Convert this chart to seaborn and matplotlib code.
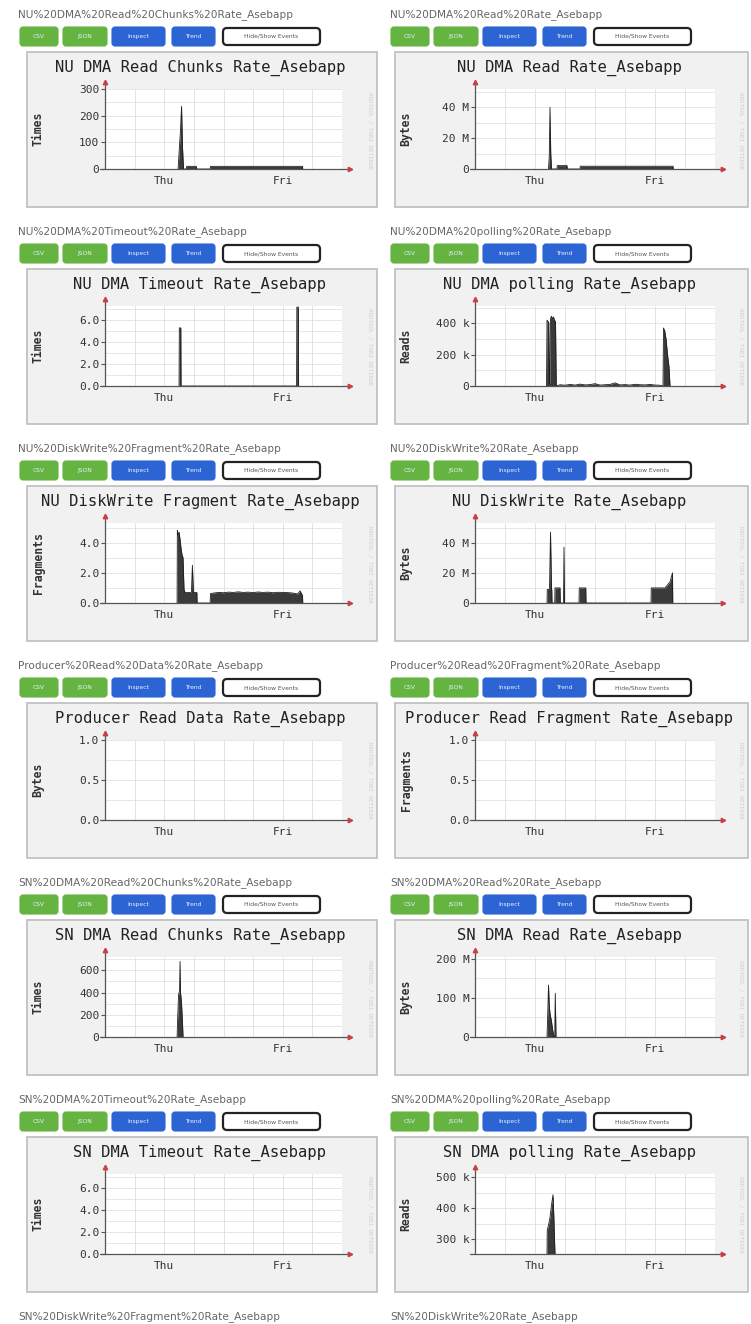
import matplotlib
matplotlib.use("Agg")
import matplotlib.pyplot as plt
from matplotlib.patches import Rectangle, FancyBboxPatch
import numpy as np
import pandas as pd
import seaborn as sns

sns.set_theme(style="white")
plt.rcParams['font.family'] = ['DejaVu Sans']

# ---------------- data (hours over a 48 h window, values in display units) -------------
day_ticks = [12, 36]
day_labels = ["Thu", "Fri"]
hour_grid = [6, 12, 18, 24, 30, 36, 42]

headers = [
    "NU%20DMA%20Read%20Chunks%20Rate_Asebapp", "NU%20DMA%20Read%20Rate_Asebapp",
    "NU%20DMA%20Timeout%20Rate_Asebapp", "NU%20DMA%20polling%20Rate_Asebapp",
    "NU%20DiskWrite%20Fragment%20Rate_Asebapp", "NU%20DiskWrite%20Rate_Asebapp",
    "Producer%20Read%20Data%20Rate_Asebapp", "Producer%20Read%20Fragment%20Rate_Asebapp",
    "SN%20DMA%20Read%20Chunks%20Rate_Asebapp", "SN%20DMA%20Read%20Rate_Asebapp",
    "SN%20DMA%20Timeout%20Rate_Asebapp", "SN%20DMA%20polling%20Rate_Asebapp",
]
footer_headers = ["SN%20DiskWrite%20Fragment%20Rate_Asebapp", "SN%20DiskWrite%20Rate_Asebapp"]

titles = [
    "NU DMA Read Chunks Rate_Asebapp", "NU DMA Read Rate_Asebapp",
    "NU DMA Timeout Rate_Asebapp", "NU DMA polling Rate_Asebapp",
    "NU DiskWrite Fragment Rate_Asebapp", "NU DiskWrite Rate_Asebapp",
    "Producer Read Data Rate_Asebapp", "Producer Read Fragment Rate_Asebapp",
    "SN DMA Read Chunks Rate_Asebapp", "SN DMA Read Rate_Asebapp",
    "SN DMA Timeout Rate_Asebapp", "SN DMA polling Rate_Asebapp",
]
ylabels = ["Times", "Bytes", "Times", "Reads", "Fragments", "Bytes",
           "Bytes", "Fragments", "Times", "Bytes", "Times", "Reads"]

ylims = [(0, 300), (0, 52), (0, 7.3), (0, 510), (0, 5.3), (0, 53),
         (0, 1), (0, 1), (0, 720), (0, 205), (0, 7.3), (252, 510)]
yticks = [[0, 100, 200, 300], [0, 20, 40], [0, 2, 4, 6], [0, 200, 400], [0, 2, 4], [0, 20, 40],
          [0, 0.5, 1.0], [0, 0.5, 1.0], [0, 200, 400, 600], [0, 100, 200], [0, 2, 4, 6], [300, 400, 500]]
yticklabels = [["0", "100", "200", "300"], ["0", "20 M", "40 M"], ["0.0", "2.0", "4.0", "6.0"],
               ["0", "200 k", "400 k"], ["0.0", "2.0", "4.0"], ["0", "20 M", "40 M"],
               ["0.0", "0.5", "1.0"], ["0.0", "0.5", "1.0"], ["0", "200", "400", "600"],
               ["0", "100 M", "200 M"], ["0.0", "2.0", "4.0", "6.0"], ["300 k", "400 k", "500 k"]]

nu_chunks_t = [14.8, 15.0, 15.3, 15.5, 15.7, 15.9, 16.5, 16.55, 18.5, 18.55, 21.3, 21.35, 40.0, 40.05]
nu_chunks_v = [0, 60, 150, 235, 80, 0, 0, 10, 10, 0, 0, 10, 10, 0]

nu_read_t = [14.7, 14.85, 15.0, 15.15, 15.3, 16.4, 16.45, 18.4, 18.45, 21.0, 21.05, 39.6, 39.65]
nu_read_v = [0, 8, 40, 10, 0, 0, 2.2, 2.2, 0, 0, 1.8, 1.8, 0]

nu_timeout_t = [15.0, 15.05, 15.35, 15.4, 38.8, 38.85, 39.15, 39.2]
nu_timeout_v = [0, 5.3, 5.3, 0, 0, 7.2, 7.2, 0]

nu_poll_t = [14.3, 14.4, 14.75, 14.85, 14.95, 15.1, 15.3, 15.5, 15.7, 15.9, 16.1, 16.25,
             17, 18, 19, 20, 21, 22, 23, 24, 25, 26, 27, 28, 29, 30, 31, 32, 33, 34, 35, 36, 37,
             37.6, 37.7, 37.95, 38.2, 38.5, 38.8, 39.0]
nu_poll_v = [0, 420, 405, 20, 15, 430, 445, 425, 440, 420, 410, 0,
             8, 5, 10, 6, 12, 7, 9, 15, 6, 8, 10, 20, 7, 9, 6, 11, 8, 7, 10, 6, 5,
             0, 370, 350, 300, 200, 120, 0]

nu_frag_t = [14.6, 14.65, 14.8, 15.0, 15.2, 15.4, 15.6, 15.8, 16.0, 16.2, 16.6, 17.5, 17.7, 17.9,
             18.6, 18.65, 21.3, 21.35, 22, 23, 24, 25, 26, 27, 28, 29, 30, 31, 32, 33, 34, 35, 36,
             37, 38, 39, 39.5, 40.0, 40.05]
nu_frag_v = [0, 4.8, 4.5, 4.7, 4.2, 3.6, 3.2, 3.0, 0.9, 0.7, 0.7, 0.7, 2.5, 0.7,
             0.7, 0, 0, 0.62, 0.66, 0.7, 0.68, 0.72, 0.7, 0.74, 0.7, 0.72, 0.69, 0.73, 0.7, 0.72, 0.68,
             0.71, 0.7, 0.69, 0.66, 0.6, 0.8, 0.5, 0]

nu_dw_t = [14.4, 14.45, 14.9, 15.1, 15.3, 15.35, 15.4, 15.95, 16.0, 17.0, 17.05, 17.7, 17.8, 17.9,
           20.8, 20.85, 22.15, 22.2, 35.2, 35.25, 38.0, 39.0, 39.5, 39.55]
nu_dw_v = [0, 9, 9, 47, 9, 9, 0, 0, 10, 10, 0, 0, 37, 0,
           0, 10, 10, 0, 0, 10, 10, 14, 20, 0]

prod_data_t = []
prod_data_v = []
prod_frag_t = []
prod_frag_v = []

sn_chunks_t = [14.6, 14.7, 14.9, 15.1, 15.2, 15.3, 15.5, 15.7, 15.8]
sn_chunks_v = [0, 150, 380, 420, 680, 400, 300, 120, 0]

sn_read_t = [14.4, 14.55, 14.7, 14.85, 15.0, 15.3, 15.5, 15.8, 15.95, 16.05, 16.2]
sn_read_v = [0, 60, 133, 80, 60, 40, 20, 0, 0, 112, 0]

sn_timeout_t = []
sn_timeout_v = []

sn_poll_t = [14.4, 14.45, 14.7, 15.0, 15.3, 15.6, 15.75, 15.9, 16.0]
sn_poll_v = [252, 330, 345, 370, 410, 443, 380, 300, 252]

series_t = [nu_chunks_t, nu_read_t, nu_timeout_t, nu_poll_t, nu_frag_t, nu_dw_t,
            prod_data_t, prod_frag_t, sn_chunks_t, sn_read_t, sn_timeout_t, sn_poll_t]
series_v = [nu_chunks_v, nu_read_v, nu_timeout_v, nu_poll_v, nu_frag_v, nu_dw_v,
            prod_data_v, prod_frag_v, sn_chunks_v, sn_read_v, sn_timeout_v, sn_poll_v]

button_labels = ["CSV", "JSON", "Inspect", "Trend", "Hide/Show Events"]

# ---------------- layout ----------------
W, H = 751, 1324
fig = plt.figure(figsize=(W / 100, H / 100), dpi=100)
fig.patch.set_facecolor("white")

bg = fig.add_axes([0, 0, 1, 1])
bg.set_xlim(0, W)
bg.set_ylim(H, 0)
bg.axis("off")

ROW_PITCH = 217
PANEL_TOP0 = 52
col_panel_x = [(27, 350), (395, 353)]
col_plot_x = [(105, 237), (475, 240)]
col_header_x = [18, 390]
col_btn_off = [0, 371]
btn_spans = [(20, 58), (63, 107), (112, 165), (172, 215), (223, 320)]
btn_face = ["#65b341", "#65b341", "#2c64d3", "#2c64d3", "white"]
mono = "DejaVu Sans Mono"


def fig_rect(x, y, w, h):
    return [x / W, 1 - (y + h) / H, w / W, h / H]


for i in range(12):
    row, col = divmod(i, 2)
    pt = PANEL_TOP0 + ROW_PITCH * row
    px, pw = col_panel_x[col]

    # header text
    bg.text(col_header_x[col], pt - 37, headers[i], fontsize=7.6, color="#666666",
            ha="left", va="center")
    # buttons
    for (bx0, bx1), lab, fc in zip(btn_spans, button_labels, btn_face):
        x0 = bx0 + col_btn_off[col]
        x1 = bx1 + col_btn_off[col]
        if fc == "white":
            bg.add_patch(FancyBboxPatch((x0, pt - 24), x1 - x0, 17,
                                        boxstyle="round,pad=0,rounding_size=4",
                                        facecolor="white", edgecolor="#222222", lw=1.6))
            bg.text((x0 + x1) / 2, pt - 15.5, lab, fontsize=4.3, color="#555555",
                    ha="center", va="center")
        else:
            bg.add_patch(FancyBboxPatch((x0, pt - 25), x1 - x0, 19,
                                        boxstyle="round,pad=0,rounding_size=3",
                                        facecolor=fc, edgecolor=fc, lw=0.8))
            bg.text((x0 + x1) / 2, pt - 15.5, lab, fontsize=4.3, color="#e8f0ff",
                    ha="center", va="center")

    # panel
    bg.add_patch(Rectangle((px, pt), pw, 155, facecolor="#f1f1f1",
                           edgecolor="#c2c2c2", lw=1.3))
    bg.text(px + pw / 2 - 2, pt + 16, titles[i], fontsize=11.2, family=mono,
            color="#222222", ha="center", va="center")
    bg.text(px + 11, pt + 77, ylabels[i], fontsize=8.3, family=mono, fontweight="bold",
            color="#333333", rotation=90, ha="center", va="center")
    bg.text(px + pw - 7, pt + 78, "RRDTOOL / TOBI OETIKER", fontsize=4.2, family=mono,
            color="#cfcfcf", rotation=270, ha="center", va="center")

    # plot area
    ox, ow = col_plot_x[col]
    ax = fig.add_axes(fig_rect(ox, pt + 37, ow, 80))
    ax.set_facecolor("white")
    lo, hi = ylims[i]
    ax.set_xlim(0, 48)
    ax.set_ylim(lo, hi)
    for s in ax.spines.values():
        s.set_visible(False)

    ticks = yticks[i]
    step = ticks[1] - ticks[0]
    grid_vals = []
    for k in range(-1, len(ticks) + 1):
        for g in (ticks[0] + k * step, ticks[0] + k * step + step / 2):
            if lo < g <= hi:
                grid_vals.append(g)
    for g in grid_vals:
        ax.axhline(g, color="#e3e3e3", lw=0.6, zorder=0)
    for hgl in hour_grid:
        ax.axvline(hgl, color="#e6dada", lw=0.6, zorder=0)

    t = series_t[i]
    v = series_v[i]
    if len(t):
        df = pd.DataFrame({"t": t, "v": v})
        ax.fill_between(df["t"], df["v"], lo, color="#3a3a3a", lw=0, zorder=2)
        sns.lineplot(data=df, x="t", y="v", ax=ax, color="#1e1e1e", lw=0.6,
                     estimator=None, sort=False, zorder=3)
    ax.set_xlabel("")
    ax.set_ylabel("")

    ax.set_yticks(ticks)
    ax.set_yticklabels(yticklabels[i], family=mono, fontsize=8, color="#333333")
    ax.set_xticks(day_ticks)
    ax.set_xticklabels(day_labels, family=mono, fontsize=8, color="#333333")
    ax.tick_params(axis="y", length=3, width=0.8, color="#555555", pad=1, left=True)
    ax.tick_params(axis="x", length=0, pad=5, bottom=True)

    # axes with arrows
    ax.plot([-0.02, 1.03], [0, 0], transform=ax.transAxes, color="#555555", lw=0.9,
            clip_on=False, zorder=4)
    ax.plot([1.035], [0], marker=">", ms=3.2, color="#c94040", transform=ax.transAxes,
            clip_on=False, zorder=5)
    ax.plot([0, 0], [0, 1.08], transform=ax.transAxes, color="#555555", lw=0.9,
            clip_on=False, zorder=4)
    ax.plot([0], [1.09], marker="^", ms=3.2, color="#c94040", transform=ax.transAxes,
            clip_on=False, zorder=5)

for col in range(2):
    bg.text(col_header_x[col], PANEL_TOP0 + ROW_PITCH * 6 - 37, footer_headers[col],
            fontsize=7.6, color="#666666", ha="left", va="center")

fig.savefig("out.png", dpi=100, facecolor="white")
